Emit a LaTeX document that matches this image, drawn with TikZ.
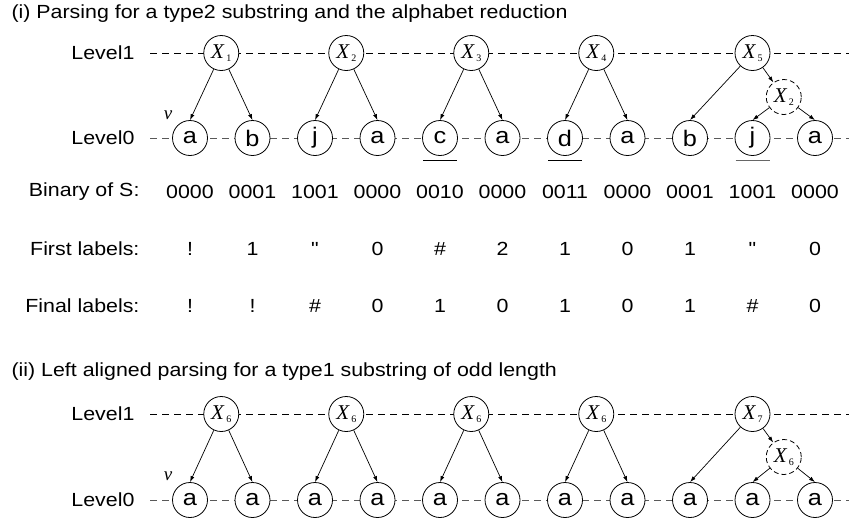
\documentclass[tikz,border=0pt]{standalone}
\usepackage{fontspec}
\setmainfont{Liberation Sans}[FakeStretch=1.125,Ligatures=TeXOff]
\newfontfamily\timesf{Liberation Serif}
\usetikzlibrary{arrows.meta}
\newcommand{\Xlab}[1]{\textit{X}\kern1.5pt\raisebox{-3.5pt}{\fontsize{10}{10}\selectfont #1}}
\newcommand{\rowsize}{\fontsize{19}{22}\selectfont}

\tikzset{
  leaf/.style={circle, draw, fill=white, line width=0.8pt, minimum size=35pt, inner sep=0pt,
    font=\fontsize{22.5}{22.5}\selectfont},
  parent/.style={circle, draw, fill=white, line width=0.8pt, minimum size=35pt, inner sep=0pt,
    font=\timesf\fontsize{21}{21}\selectfont},
  hidden/.style={parent, dashed, dash pattern=on 5pt off 3pt},
  arr/.style={-{Latex[length=6pt,width=4pt]}, line width=0.7pt},
  lineone/.style={dash pattern=on 7pt off 5pt, line width=0.8pt},
  linezero/.style={dash pattern=on 7pt off 5pt, line width=0.8pt, black!65},
  uline/.style={line width=0.9pt},
  levlab/.style={anchor=east, font=\rowsize},
  rowlab/.style={anchor=east, font=\rowsize},
  cell/.style={font=\rowsize},
  title/.style={anchor=base west, font=\rowsize},
  vlab/.style={font=\timesf\itshape\fontsize{19}{19}\selectfont}
}

\begin{document}
\begin{tikzpicture}[x=1pt,y=-1pt]
\useasboundingbox (0,0) rectangle (849,520);

% (i)
\node[title] (ti) at (8,18) {(i) Parsing for a type2 substring and the alphabet reduction};
\node[levlab] (lv1a) at (138,53) {Level1};
\node[levlab] (lv0a) at (138,138) {Level0};
\coordinate (l1s) at (150,53);
\coordinate (l1e) at (849,53);
\coordinate (l0s) at (150,138);
\coordinate (l0e) at (849,138);
\draw[lineone] (l1s) -- (l1e);
\draw[linezero] (l0s) -- (l0e);

\foreach \c [count=\i from 0] in {a,b,j,a,c,a,d,a,b,j,a}
  \node[leaf] (ua\i) at (190+62.5*\i,138) {\c};
\foreach \k/\p in {1/0.5,2/2.5,3/4.5,4/6.5}
  \node[parent] (va\k) at (190+62.5*\p,53) {\Xlab{\k}};
\node[parent] (va5) at (752.5,53) {\Xlab{5}};
\node[hidden] (wa) at (783.75,97) {\Xlab{2}};
\node[vlab] (va) at (168,115) {v};

\foreach \k/\l/\r in {1/0/1,2/2/3,3/4/5,4/6/7}{
  \draw[arr] (va\k) -- (ua\l.north);
  \draw[arr] (va\k) -- (ua\r.north);
}
\draw[arr] (va5) -- (ua8.north);
\draw[arr] (va5) -- (wa);
\draw[arr] (wa) -- (ua9.north);
\draw[arr] (wa) -- (ua10.north);

\foreach \i in {4,6}
  \draw[uline] ([shift={(-17,5)}]ua\i.south) -- ([shift={(17,5)}]ua\i.south);
\draw[uline, black!60] ([shift={(-17,5)}]ua9.south) -- ([shift={(17,5)}]ua9.south);

\node[rowlab] (bin) at (143,192) {Binary of S:};
\foreach \t [count=\i from 0] in {0000,0001,1001,0000,0010,0000,0011,0000,0001,1001,0000}
  \node[cell] (b\i) at (ua\i |- bin) {\t};
\node[rowlab] (fst) at (143,249) {First labels:};
\foreach \t [count=\i from 0] in {!,1,",0,\#,2,1,0,1,",0}
  \node[cell] (f\i) at (ua\i |- fst) {\t};
\node[rowlab] (fin) at (143,306) {Final labels:};
\foreach \t [count=\i from 0] in {!,!,\#,0,1,0,1,0,1,\#,0}
  \node[cell] (g\i) at (ua\i |- fin) {\t};

% (ii)
\node[title] (tii) at (8,376) {(ii) Left aligned parsing for a type1 substring of odd length};
\node[levlab] (lv1b) at (138,414) {Level1};
\node[levlab] (lv0b) at (138,500) {Level0};
\coordinate (m1s) at (150,414);
\coordinate (m1e) at (849,414);
\coordinate (m0s) at (150,500);
\coordinate (m0e) at (849,500);
\draw[lineone] (m1s) -- (m1e);
\draw[linezero] (m0s) -- (m0e);

\foreach \i in {0,...,10}
  \node[leaf] (ub\i) at (190+62.5*\i,500) {a};
\foreach \k/\p in {1/0.5,2/2.5,3/4.5,4/6.5}
  \node[parent] (vb\k) at (190+62.5*\p,414) {\Xlab{6}};
\node[parent] (vb5) at (752.5,414) {\Xlab{7}};
\node[hidden] (wb) at (783.75,457) {\Xlab{6}};
\node[vlab] (vv) at (168,476) {v};

\foreach \k/\l/\r in {1/0/1,2/2/3,3/4/5,4/6/7}{
  \draw[arr] (vb\k) -- (ub\l.north);
  \draw[arr] (vb\k) -- (ub\r.north);
}
\draw[arr] (vb5) -- (ub8.north);
\draw[arr] (vb5) -- (wb);
\draw[arr] (wb) -- (ub9.north);
\draw[arr] (wb) -- (ub10.north);
\end{tikzpicture}
\end{document}
